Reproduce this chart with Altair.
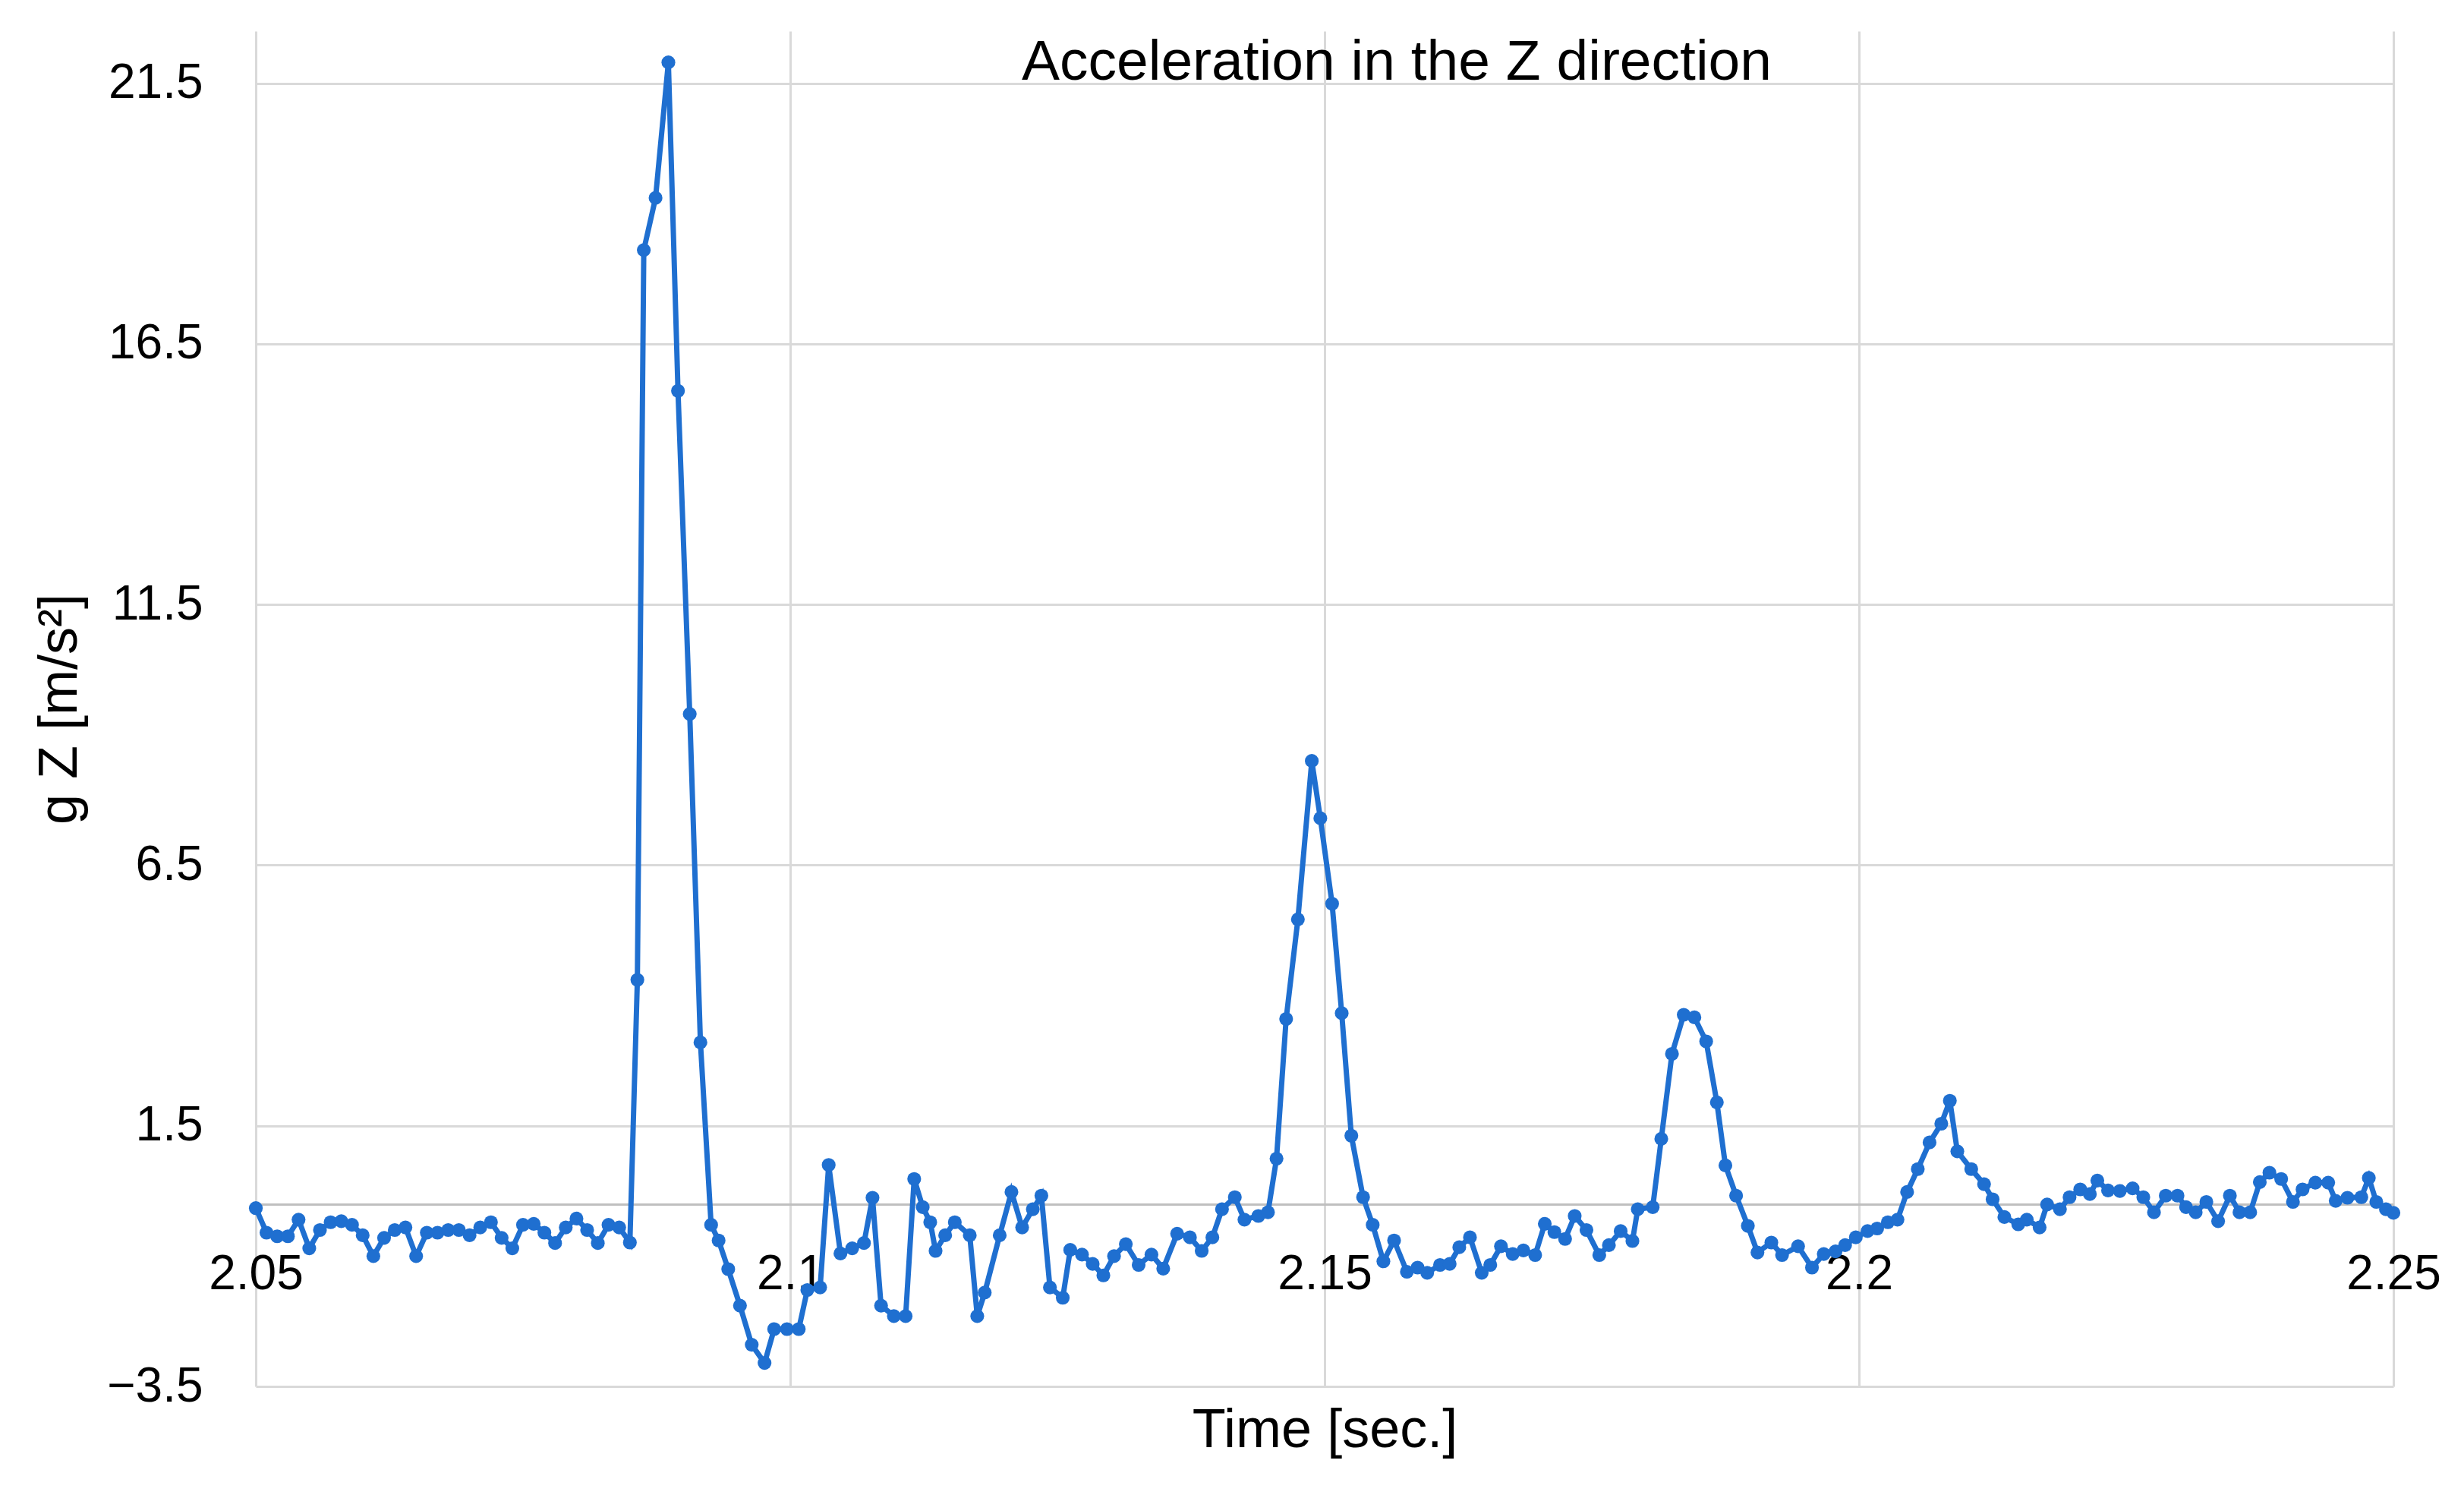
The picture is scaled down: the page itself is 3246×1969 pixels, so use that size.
import altair as alt
import pandas as pd

# Sample times (s)
time_s = [
    2.050, 2.051, 2.052, 2.053, 2.054, 2.055, 2.056, 2.057, 2.058, 2.059,
    2.060, 2.061, 2.062, 2.063, 2.064, 2.065, 2.066, 2.067, 2.068, 2.069,
    2.070, 2.071, 2.072, 2.073, 2.074, 2.075, 2.076, 2.077, 2.078, 2.079,
    2.080, 2.081, 2.082, 2.083, 2.084,
    2.0850, 2.0857, 2.0863, 2.0874, 2.0886, 2.0895, 2.0906, 2.0916, 2.0926, 2.0933,
    2.0942, 2.0953, 2.0964, 2.0976, 2.0985, 2.0997, 2.1008, 2.1016, 2.1028, 2.1036,
    2.1047, 2.1058, 2.1069, 2.1077, 2.1085, 2.1097, 2.1108, 2.1116, 2.1124, 2.1131,
    2.1136, 2.1145, 2.1154, 2.1168, 2.1175, 2.1182, 2.1196, 2.1207, 2.1217, 2.1227,
    2.1235, 2.1243, 2.1255, 2.1262, 2.1273, 2.1283, 2.1293, 2.1303, 2.1314, 2.1326,
    2.1338, 2.1349, 2.1362, 2.1374, 2.1385, 2.1395, 2.1404, 2.1416, 2.1425, 2.1438,
    2.1447, 2.1455, 2.1464, 2.1475, 2.1488, 2.1496, 2.1507, 2.1516, 2.1525, 2.1536,
    2.1545, 2.1555, 2.1565, 2.1577, 2.1587, 2.1596, 2.1608, 2.1617, 2.1626, 2.1636,
    2.1647, 2.1655, 2.1665, 2.1676, 2.1686, 2.1697, 2.1706, 2.1715, 2.1725, 2.1734,
    2.1745, 2.1757, 2.1766, 2.1777, 2.1788, 2.1793, 2.1807, 2.1815, 2.1825, 2.1836,
    2.1846, 2.1857, 2.1867, 2.1875, 2.1885, 2.1896, 2.1905, 2.1918, 2.1928, 2.1943,
    2.1956, 2.1967, 2.1978, 2.1987, 2.1997, 2.2008, 2.2017, 2.2027, 2.2036, 2.2045,
    2.2055, 2.2066, 2.2077, 2.2085, 2.2092, 2.2105, 2.2117, 2.2125, 2.2136, 2.2149,
    2.2157, 2.2169, 2.2176, 2.2188, 2.2197, 2.2207, 2.2216, 2.2223, 2.2233, 2.2244,
    2.2256, 2.2266, 2.2276, 2.2287, 2.2298, 2.2306, 2.2315, 2.2325, 2.2336, 2.2347,
    2.2356, 2.2366, 2.2375, 2.2384, 2.2395, 2.2406, 2.2415, 2.2427, 2.2439, 2.2446,
    2.2457, 2.2470, 2.2477, 2.2484, 2.2493, 2.2500,
]

# Acceleration in Z (m/s^2)
accel_z = [
    -0.08, -0.55, -0.62, -0.62, -0.30, -0.85, -0.50, -0.35, -0.33, -0.40,
    -0.60, -1.00, -0.65, -0.50, -0.45, -1.00, -0.55, -0.55, -0.50, -0.50,
    -0.60, -0.45, -0.35, -0.65, -0.85, -0.40, -0.38, -0.55, -0.75, -0.45,
    -0.28, -0.50, -0.75, -0.40, -0.45,
    -0.74, 4.30, 18.30, 19.30, 21.90, 15.60, 9.40, 3.10, -0.40, -0.70,
    -1.25, -1.95, -2.70, -3.05, -2.40, -2.40, -2.40, -1.65, -1.60, 0.75,
    -0.95, -0.85, -0.75, 0.12, -1.95, -2.15, -2.15, 0.48, -0.06, -0.35,
    -0.90, -0.60, -0.35, -0.60, -2.15, -1.70, -0.60, 0.23, -0.45, -0.10,
    0.16, -1.60, -1.80, -0.88, -0.97, -1.15, -1.37, -1.00, -0.77, -1.17,
    -0.97, -1.24, -0.57, -0.64, -0.90, -0.64, -0.10, 0.13, -0.30, -0.23,
    -0.16, 0.87, 3.55, 5.46, 8.50, 7.40, 5.76, 3.66, 1.31, 0.13,
    -0.40, -1.10, -0.70, -1.30, -1.22, -1.32, -1.17, -1.15, -0.83, -0.64,
    -1.32, -1.17, -0.81, -0.96, -0.89, -0.98, -0.38, -0.54, -0.67, -0.23,
    -0.50, -0.98, -0.79, -0.52, -0.71, -0.10, -0.06, 1.25, 2.88, 3.63,
    3.58, 3.12, 1.95, 0.74, 0.16, -0.42, -0.93, -0.74, -0.98, -0.81,
    -1.22, -0.96, -0.91, -0.79, -0.64, -0.52, -0.47, -0.35, -0.30, 0.23,
    0.67, 1.18, 1.54, 1.98, 1.01, 0.67, 0.38, 0.09, -0.25, -0.39,
    -0.30, -0.45, -0.01, -0.10, 0.13, 0.28, 0.19, 0.45, 0.26, 0.25,
    0.30, 0.13, -0.16, 0.16, 0.16, -0.06, -0.16, 0.04, -0.33, 0.16,
    -0.16, -0.16, 0.42, 0.60, 0.48, 0.04, 0.28, 0.41, 0.41, 0.06,
    0.12, 0.13, 0.50, 0.04, -0.10, -0.17,
]

x_ticks = [2.05, 2.1, 2.15, 2.2, 2.25]
y_ticks = [-3.5, 1.5, 6.5, 11.5, 16.5, 21.5]

FONT = "Liberation Sans"
BLUE = "#1f6fd0"
GRID = "#d9d9d9"

df = pd.DataFrame({"t": time_s, "g": accel_z})

W, H = 2816, 1785

x_enc = alt.X(
    "t:Q",
    scale=alt.Scale(domain=[2.05, 2.25], nice=False, zero=False),
    axis=alt.Axis(
        values=x_ticks, format=".2~f", offset=-240, ticks=False,
        domain=True, domainColor="#bfbfbf", domainWidth=3,
        grid=True, gridColor=GRID, gridWidth=3,
        labelFont=FONT, labelFontSize=64, labelColor="#000000", labelPadding=60,
        labelFlush=False, labelOverlap=False,
        title="Time [sec.]", titleFont=FONT, titleFontSize=72,
        titleFontWeight="normal", titleColor="#000000",
        titleX=W / 2, titleY=262, titleBaseline="top",
    ),
)
y_enc = alt.Y(
    "g:Q",
    scale=alt.Scale(domain=[-3.5, 22.5], nice=False, zero=False),
    axis=alt.Axis(
        values=y_ticks, format=".1f", ticks=False, domain=False,
        grid=True, gridColor=GRID, gridWidth=3,
        labelFont=FONT, labelFontSize=64, labelColor="#000000", labelPadding=70,
        title="g Z [m/s²]", titleFont=FONT, titleFontSize=72,
        titleFontWeight="normal", titleColor="#000000",
        titleX=-222, titleY=H / 2, titleBaseline="bottom",
    ),
)

base = alt.Chart(df).encode(x=x_enc, y=y_enc)
line = base.mark_line(color=BLUE, strokeWidth=7)
pts = base.mark_circle(color=BLUE, size=330, opacity=1)

chart = (
    alt.layer(line, pts)
    .properties(
        width=W,
        height=H,
        padding={"left": 329, "top": 33, "right": 85, "bottom": 130},
        autosize=alt.AutoSizeParams(type="none"),
        title=alt.TitleParams(
            "Acceleration in the Z direction", font=FONT, fontSize=75,
            fontWeight="normal", color="#000000", anchor="middle", frame="group",
            offset=-67, baseline="alphabetic", dx=95, dy=72,
        ),
        background="#ffffff",
    )
    .configure_view(strokeWidth=0)
)

chart.save("out.html", embed_options={"renderer": "svg", "actions": False})
